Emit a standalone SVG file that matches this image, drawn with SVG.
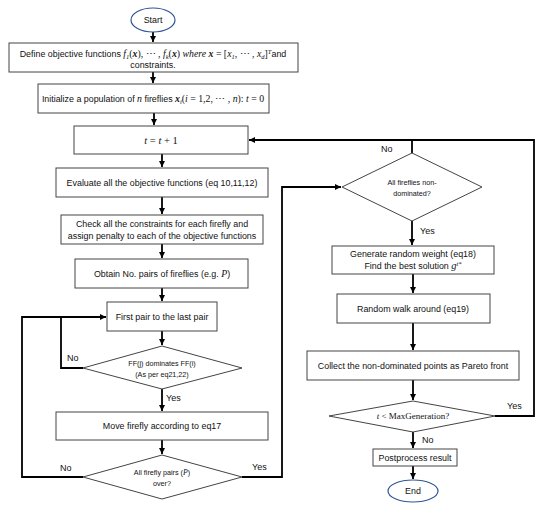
<svg xmlns="http://www.w3.org/2000/svg" width="550" height="510" viewBox="0 0 550 510">
<style>
.box{fill:#fff;stroke:#444;stroke-width:1}
.ell{fill:#fff;stroke:#2f5597;stroke-width:1.2}
.t{font-family:"Liberation Sans",Arial,sans-serif;font-size:8.9px;fill:#111;text-anchor:middle}
.s{font-family:"Liberation Sans",Arial,sans-serif;font-size:7.2px;fill:#111;text-anchor:middle}
.lb{font-family:"Liberation Sans",Arial,sans-serif;font-size:9px;fill:#111}
.m{font-family:"Liberation Serif","Times New Roman",serif;font-style:italic;font-size:9.8px}
.mb{font-family:"Liberation Serif","Times New Roman",serif;font-style:italic;font-weight:bold;font-size:9.8px}
.mr{font-family:"Liberation Serif","Times New Roman",serif;font-size:9.8px}
.sub{font-family:"Liberation Serif","Times New Roman",serif;font-style:italic;font-size:6.5px}
.c{fill:none;stroke:#000;stroke-width:1.8}
</style>
<defs>
<marker id="ah" markerUnits="userSpaceOnUse" markerWidth="7" markerHeight="7" refX="6" refY="3" orient="auto">
<path d="M0,0 L6,3 L0,6 z" fill="#000"/>
</marker>
</defs>

<g id="connectors">
<path class="c" d="M153,32 V42" marker-end="url(#ah)"/>
<path class="c" d="M153,72 V83" marker-end="url(#ah)"/>
<path class="c" d="M154,113 V125" marker-end="url(#ah)"/>
<path class="c" d="M162,154 V167" marker-end="url(#ah)"/>
<path class="c" d="M162,197 V214" marker-end="url(#ah)"/>
<path class="c" d="M162,244 V258" marker-end="url(#ah)"/>
<path class="c" d="M162,288 V301" marker-end="url(#ah)"/>
<path class="c" d="M162,331 V345" marker-end="url(#ah)"/>
<path class="c" d="M162,389 V411" marker-end="url(#ah)"/>
<path class="c" d="M162,440 V454" marker-end="url(#ah)"/>
<path class="c" d="M83,368 H61 V317"/>
<path class="c" d="M83,477 H22 V317 H106" marker-end="url(#ah)"/>
<path class="c" d="M242,477 H282 V187 H341" marker-end="url(#ah)"/>
<path class="c" d="M412,153 V140"/>
<path class="c" d="M495,416 H534 V140 H249" marker-end="url(#ah)"/>
<path class="c" d="M412,221 V245" marker-end="url(#ah)"/>
<path class="c" d="M413,274 V293" marker-end="url(#ah)"/>
<path class="c" d="M413,323 V350" marker-end="url(#ah)"/>
<path class="c" d="M413,380 V400" marker-end="url(#ah)"/>
<path class="c" d="M413,432 V448" marker-end="url(#ah)"/>
<path class="c" d="M413,466 V479" marker-end="url(#ah)"/>
<text class="lb" x="67" y="361">No</text>
<text class="lb" x="166" y="401">Yes</text>
<text class="lb" x="60" y="471">No</text>
<text class="lb" x="252" y="470">Yes</text>
<text class="lb" x="381" y="152">No</text>
<text class="lb" x="420" y="234">Yes</text>
<text class="lb" x="507" y="409">Yes</text>
<text class="lb" x="422" y="443">No</text>
</g>

<g id="start">
<ellipse class="ell" cx="153" cy="20" rx="22" ry="12"/>
<text class="t" x="153" y="23">Start</text>
</g>

<g id="define">
<rect class="box" x="9" y="43" width="289" height="29"/>
<text class="t" x="153" y="57">Define objective functions <tspan class="m">f</tspan><tspan class="sub" dy="2">1</tspan><tspan class="mr" dy="-2">(</tspan><tspan class="mb">x</tspan><tspan class="mr">), ⋯ , </tspan><tspan class="m">f</tspan><tspan class="sub" dy="2">k</tspan><tspan class="mr" dy="-2">(</tspan><tspan class="mb">x</tspan><tspan class="mr">) </tspan><tspan class="m">where </tspan><tspan class="mb">x</tspan><tspan class="mr"> = [</tspan><tspan class="m">x</tspan><tspan class="sub" dy="2">1</tspan><tspan class="mr" dy="-2">, ⋯ , </tspan><tspan class="m">x</tspan><tspan class="sub" dy="2">d</tspan><tspan class="mr" dy="-2">]</tspan><tspan class="sub" dy="-3">T</tspan><tspan dy="3">and</tspan></text>
<text class="t" x="153" y="68">constraints.</text>
</g>

<g id="init">
<rect class="box" x="38" y="84" width="231" height="29"/>
<text class="t" x="153" y="102">Initialize a population of <tspan class="m">n</tspan> fireflies <tspan class="mb">x</tspan><tspan class="sub" dy="2">i</tspan><tspan class="mr" dy="-2">(</tspan><tspan class="m">i</tspan><tspan class="mr"> = 1,2, ⋯ , </tspan><tspan class="m">n</tspan><tspan class="mr">): </tspan><tspan class="m">t</tspan><tspan class="mr"> = 0</tspan></text>
</g>

<g id="increment">
<rect class="box" x="74" y="126" width="174" height="28"/>
<text class="t" x="161" y="144"><tspan class="m" style="font-size:10.5px">t</tspan><tspan class="mr" style="font-size:10.5px"> = </tspan><tspan class="m" style="font-size:10.5px">t</tspan><tspan class="mr" style="font-size:10.5px"> + 1</tspan></text>
</g>

<g id="evaluate">
<rect class="box" x="56" y="168" width="212" height="29"/>
<text class="t" x="162" y="186">Evaluate all the objective functions (eq 10,11,12)</text>
</g>

<g id="check">
<rect class="box" x="61" y="215" width="202" height="29"/>
<text class="t" x="162" y="227">Check all the constraints for each firefly and</text>
<text class="t" x="162" y="239">assign penalty to each of the objective functions</text>
</g>

<g id="obtain">
<rect class="box" x="75" y="259" width="173" height="29"/>
<text class="t" x="162" y="277">Obtain No. pairs of fireflies (e.g. <tspan class="m">P</tspan>)</text>
</g>

<g id="firstpair">
<rect class="box" x="107" y="302" width="110" height="29"/>
<text class="t" x="162" y="320">First pair to the last pair</text>
</g>

<g id="dominates">
<polygon class="box" points="162,346 242,368 162,389 83,368"/>
<text class="s" x="162" y="366">FF(j) dominates FF(i)</text>
<text class="s" x="162" y="377">(As per eq21,22)</text>
</g>

<g id="move">
<rect class="box" x="56" y="412" width="212" height="28"/>
<text class="t" x="162" y="429">Move firefly according to eq17</text>
</g>

<g id="allpairs">
<polygon class="box" points="162,455 242,477 162,499 83,477"/>
<text class="s" x="162" y="475">All firefly pairs (<tspan class="m" style="font-size:7.8px">P</tspan>)</text>
<text class="s" x="162" y="486">over?</text>
</g>

<g id="nondominated">
<polygon class="box" points="412,153 482,187 412,221 342,187"/>
<text class="s" x="412" y="185">All fireflies non-</text>
<text class="s" x="412" y="196">dominated?</text>
</g>

<g id="generate">
<rect class="box" x="332" y="246" width="162" height="28"/>
<text class="t" x="413" y="257">Generate random weight (eq18)</text>
<text class="t" x="413" y="269">Find the best solution <tspan class="m" style="font-size:10.5px">g</tspan><tspan class="sub" dy="-3">t</tspan><tspan class="sub">*</tspan></text>
</g>

<g id="randomwalk">
<rect class="box" x="337" y="294" width="153" height="29"/>
<text class="t" x="413" y="312">Random walk around (eq19)</text>
</g>

<g id="collect">
<rect class="box" x="307" y="351" width="212" height="29"/>
<text class="t" x="413" y="369">Collect the non-dominated points as Pareto front</text>
</g>

<g id="maxgen">
<polygon class="box" points="413,401 495,416 413,432 329,416"/>
<text class="t" x="413" y="419"><tspan class="m" style="font-size:9px">t</tspan><tspan class="mr" style="font-size:9px"> &lt; MaxGeneration?</tspan></text>
</g>

<g id="postprocess">
<rect class="box" x="373" y="449" width="84" height="17"/>
<text class="t" x="415" y="461">Postprocess result</text>
</g>

<g id="end">
<ellipse class="ell" cx="413" cy="491" rx="25" ry="11"/>
<text class="t" x="413" y="494">End</text>
</g>
</svg>
